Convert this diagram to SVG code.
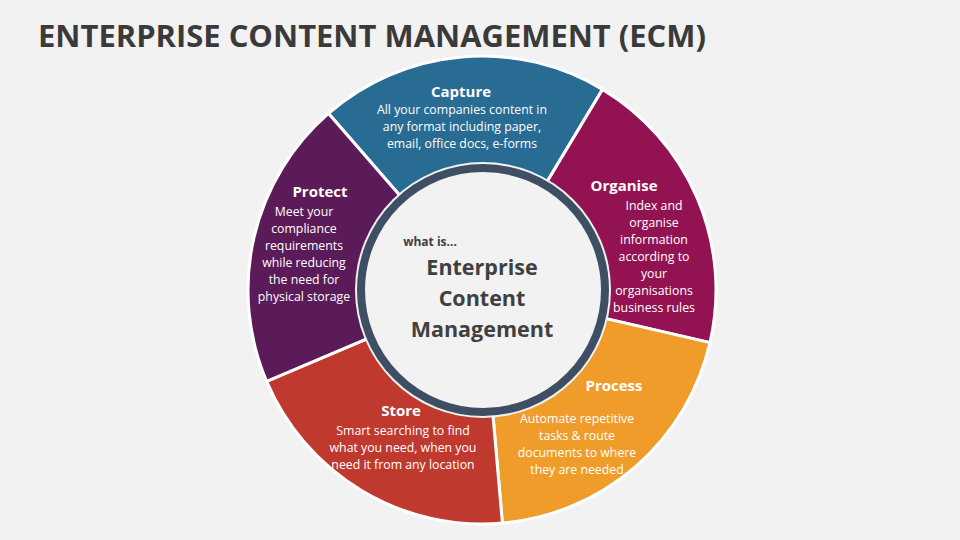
<svg xmlns="http://www.w3.org/2000/svg" width="960" height="540" viewBox="0 0 960 540">
<style>
.seg{stroke:#fff;stroke-width:3}
.h{font-family:"Open Sans","Liberation Sans",sans-serif;font-weight:bold;font-size:15px;fill:#fff;text-anchor:middle}
.b{font-family:"Open Sans","Liberation Sans",sans-serif;font-size:12.3px;fill:#fff;text-anchor:middle}
.c{font-family:"Open Sans","Liberation Sans",sans-serif;font-weight:bold;fill:#404040;text-anchor:middle}
</style>
<rect width="960" height="540" fill="#f2f2f2"/>
<text x="38" y="47" font-family="Open Sans,Liberation Sans,sans-serif" font-weight="bold" font-size="30" fill="#3a3a3a" textLength="668" lengthAdjust="spacingAndGlyphs">ENTERPRISE CONTENT MANAGEMENT (ECM)</text>
<g id="connectors"></g>
<g id="capture"><path class="seg" fill="#286b93" d="M482,290 L328.5,113.4 A234,234 0 0 1 602.5,89.4 Z"/>
<text class="h" x="461" y="97">Capture</text>
<text class="b" x="462" y="114">All your companies content in</text>
<text class="b" x="462" y="131">any format including paper,</text>
<text class="b" x="462" y="148">email, office docs, e-forms</text></g>
<g id="organise"><path class="seg" fill="#931352" d="M482,290 L602.5,89.4 A234,234 0 0 1 710,342.6 Z"/>
<text class="h" x="624" y="191">Organise</text>
<text class="b" x="654" y="210">Index and</text>
<text class="b" x="654" y="227">organise</text>
<text class="b" x="654" y="244">information</text>
<text class="b" x="654" y="261">according to</text>
<text class="b" x="654" y="278">your</text>
<text class="b" x="654" y="295">organisations</text>
<text class="b" x="654" y="312">business rules</text></g>
<g id="process"><path class="seg" fill="#f09c2a" d="M482,290 L710,342.6 A234,234 0 0 1 502.4,523.1 Z"/>
<text class="h" x="614" y="391">Process</text>
<text class="b" x="577" y="423">Automate repetitive</text>
<text class="b" x="577" y="440">tasks &amp; route</text>
<text class="b" x="577" y="457">documents to where</text>
<text class="b" x="577" y="474">they are needed</text></g>
<g id="store"><path class="seg" fill="#c0392f" d="M482,290 L502.4,523.1 A234,234 0 0 1 266.6,381.4 Z"/>
<text class="h" x="401" y="416">Store</text>
<text class="b" x="403" y="435">Smart searching to find</text>
<text class="b" x="403" y="452">what you need, when you</text>
<text class="b" x="403" y="469">need it from any location</text></g>
<g id="protect"><path class="seg" fill="#5b1a58" d="M482,290 L266.6,381.4 A234,234 0 0 1 328.5,113.4 Z"/>
<text class="h" x="320" y="197">Protect</text>
<text class="b" x="304" y="216">Meet your</text>
<text class="b" x="304" y="233">compliance</text>
<text class="b" x="304" y="250">requirements</text>
<text class="b" x="304" y="267">while reducing</text>
<text class="b" x="304" y="284">the need for</text>
<text class="b" x="304" y="301">physical storage</text></g>
<g id="center"><circle cx="483" cy="290" r="128" fill="#f2f2f2"/>
<circle cx="483" cy="290" r="122" fill="#f2f2f2" stroke="#3f4f63" stroke-width="8"/>
<text class="c" x="430" y="246" font-size="12">what is...</text>
<text class="c" x="482" y="275" font-size="21.5">Enterprise</text>
<text class="c" x="482" y="306" font-size="21.5">Content</text>
<text class="c" x="482" y="337" font-size="21.5">Management</text></g>
</svg>
